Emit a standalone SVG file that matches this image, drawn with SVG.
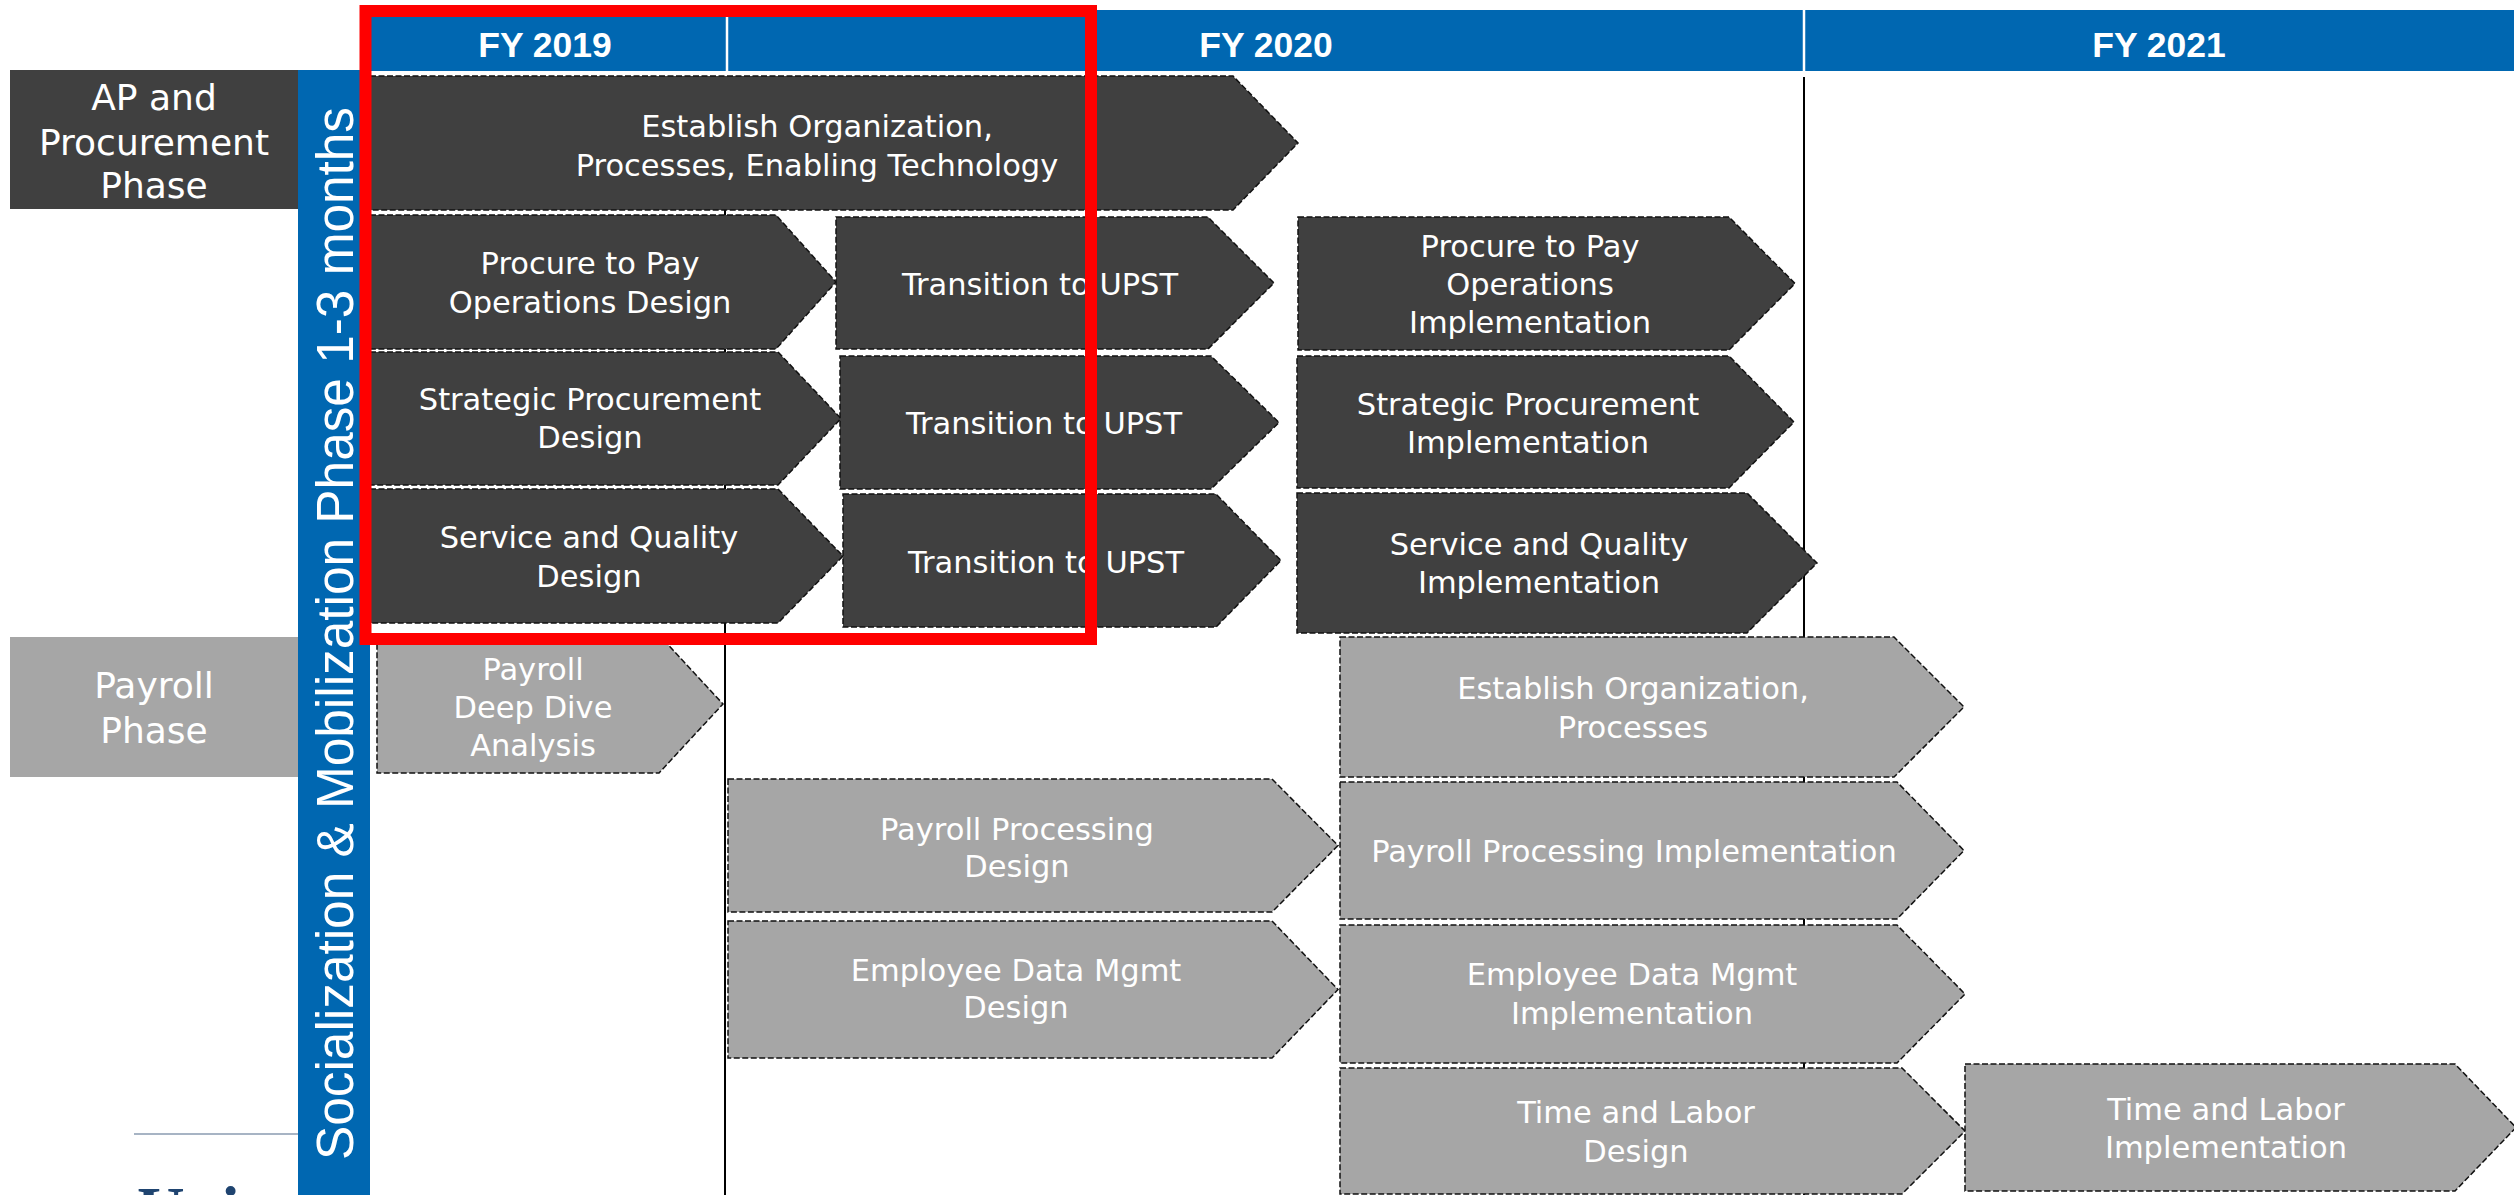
<svg xmlns="http://www.w3.org/2000/svg" width="2514" height="1195" viewBox="0 0 2514 1195">
<style>
.dk{fill:#404040;stroke:#111;stroke-width:1.5;stroke-dasharray:6 2.5}
.lt{fill:#a6a6a6;stroke:#111;stroke-width:1.5;stroke-dasharray:6 2.5}
.t{font-family:"DejaVu Sans",Verdana,sans-serif;font-size:30.5px;fill:#fff;text-anchor:middle}
.h{font-family:"Liberation Sans",Arial,sans-serif;font-weight:bold;font-size:35.5px;fill:#fff;text-anchor:middle}
.lb{font-family:"DejaVu Sans",Verdana,sans-serif;font-size:36px;fill:#fff;text-anchor:middle}
.grid{stroke:#000;stroke-width:2;fill:none}
</style>
<rect width="2514" height="1195" fill="#fff"/>
<g id="header">
<rect x="368" y="10" width="2146" height="61" fill="#0067b1"/>
<line x1="727" y1="10" x2="727" y2="71" stroke="#fff" stroke-width="2.5"/>
<line x1="1804" y1="10" x2="1804" y2="71" stroke="#fff" stroke-width="2.5"/>
<text class="h" x="545" y="57">FY 2019</text>
<text class="h" x="1266" y="57">FY 2020</text>
<text class="h" x="2159" y="57">FY 2021</text>
</g>
<g id="connectors">
<line class="grid" x1="725" y1="76" x2="725" y2="1195"/>
<line class="grid" x1="1804" y1="77" x2="1804" y2="1195"/>
</g>
<g id="ap-est-org"><polygon class="dk" points="370,76 1233,76 1298,143 1233,210 370,210"/>
<text class="t" x="817" y="137">Establish Organization,</text><text class="t" x="817" y="176">Processes, Enabling Technology</text></g>
<g id="ap-p2p-design"><polygon class="dk" points="370,215 776,215 836,282 776,349 370,349"/>
<text class="t" x="590" y="274">Procure to Pay</text><text class="t" x="590" y="313">Operations Design</text></g>
<g id="ap-p2p-transition"><polygon class="dk" points="836,217 1208,217 1274,283 1208,349 836,349"/>
<text class="t" x="1040" y="295">Transition to UPST</text></g>
<g id="ap-p2p-impl"><polygon class="dk" points="1298,217 1729,217 1795,283.5 1729,350 1298,350"/>
<text class="t" x="1530" y="257">Procure to Pay</text><text class="t" x="1530" y="295">Operations</text><text class="t" x="1530" y="333">Implementation</text></g>
<g id="ap-sp-design"><polygon class="dk" points="370,352 778,352 841,418.5 778,485 370,485"/>
<text class="t" x="590" y="410">Strategic Procurement</text><text class="t" x="590" y="448">Design</text></g>
<g id="ap-sp-transition"><polygon class="dk" points="840,356 1211,356 1279,422.5 1211,489 840,489"/>
<text class="t" x="1044" y="434">Transition to UPST</text></g>
<g id="ap-sp-impl"><polygon class="dk" points="1297,356 1729,356 1794,422 1729,488 1297,488"/>
<text class="t" x="1528" y="415">Strategic Procurement</text><text class="t" x="1528" y="453">Implementation</text></g>
<g id="ap-sq-design"><polygon class="dk" points="370,489 778,489 843,556 778,623 370,623"/>
<text class="t" x="589" y="548">Service and Quality</text><text class="t" x="589" y="587">Design</text></g>
<g id="ap-sq-transition"><polygon class="dk" points="843,494 1216,494 1281,560.5 1216,627 843,627"/>
<text class="t" x="1046" y="573">Transition to UPST</text></g>
<g id="ap-sq-impl"><polygon class="dk" points="1297,493 1747,493 1817,563 1747,633 1297,633"/>
<text class="t" x="1539" y="555">Service and Quality</text><text class="t" x="1539" y="593">Implementation</text></g>
<g id="pr-deep-dive"><polygon class="lt" points="377,635 659,635 723,704 659,773 377,773"/>
<text class="t" x="533" y="680">Payroll</text><text class="t" x="533" y="718">Deep Dive</text><text class="t" x="533" y="756">Analysis</text></g>
<g id="pr-processing-design"><polygon class="lt" points="728,779 1272,779 1338,845.5 1272,912 728,912"/>
<text class="t" x="1017" y="840">Payroll Processing</text><text class="t" x="1017" y="877">Design</text></g>
<g id="pr-edm-design"><polygon class="lt" points="728,921 1272,921 1338,989.5 1272,1058 728,1058"/>
<text class="t" x="1016" y="981">Employee Data Mgmt</text><text class="t" x="1016" y="1018">Design</text></g>
<g id="pr-est-org"><polygon class="lt" points="1340,637 1894,637 1964,707 1894,777 1340,777"/>
<text class="t" x="1633" y="699">Establish Organization,</text><text class="t" x="1633" y="738">Processes</text></g>
<g id="pr-processing-impl"><polygon class="lt" points="1340,782 1897,782 1964,850.5 1897,919 1340,919"/>
<text class="t" x="1634" y="862">Payroll Processing Implementation</text></g>
<g id="pr-edm-impl"><polygon class="lt" points="1340,925 1897,925 1965,994 1897,1063 1340,1063"/>
<text class="t" x="1632" y="985">Employee Data Mgmt</text><text class="t" x="1632" y="1024">Implementation</text></g>
<g id="pr-tl-design"><polygon class="lt" points="1340,1068 1902,1068 1965,1131 1902,1194 1340,1194"/>
<text class="t" x="1636" y="1123">Time and Labor</text><text class="t" x="1636" y="1162">Design</text></g>
<g id="pr-tl-impl"><polygon class="lt" points="1965,1064 2455,1064 2516,1127.5 2455,1191 1965,1191"/>
<text class="t" x="2226" y="1120">Time and Labor</text><text class="t" x="2226" y="1158">Implementation</text></g>
<g id="ap-phase"><rect x="10" y="70" width="288" height="139" fill="#404040"/>
<text class="lb" x="154" y="110">AP and</text><text class="lb" x="154" y="155">Procurement</text><text class="lb" x="154" y="198">Phase</text></g>
<g id="payroll-phase"><rect x="10" y="637" width="288" height="140" fill="#a6a6a6"/>
<text class="lb" x="154" y="698">Payroll</text><text class="lb" x="154" y="743">Phase</text></g>
<g id="socialization-bar"><rect x="298" y="70" width="72" height="1125" fill="#0067b1"/>
<text transform="translate(353,633.5) rotate(-90)" x="0" y="0" font-family="Liberation Sans, Arial, sans-serif" font-size="51" fill="#fff" text-anchor="middle" textLength="1053" lengthAdjust="spacingAndGlyphs">Socialization &amp; Mobilization Phase 1-3 months</text></g>
<g id="highlight"><rect x="365.5" y="11" width="725.5" height="628" fill="none" stroke="#ff0000" stroke-width="12"/></g>
<g id="footer">
<line x1="134" y1="1134" x2="298" y2="1134" stroke="#8a9bb0" stroke-width="1.5"/>
<text x="137" y="1232" font-family="Liberation Serif, Times New Roman, serif" font-weight="bold" font-size="66" fill="#1f4470">Uni</text>
</g>
</svg>
